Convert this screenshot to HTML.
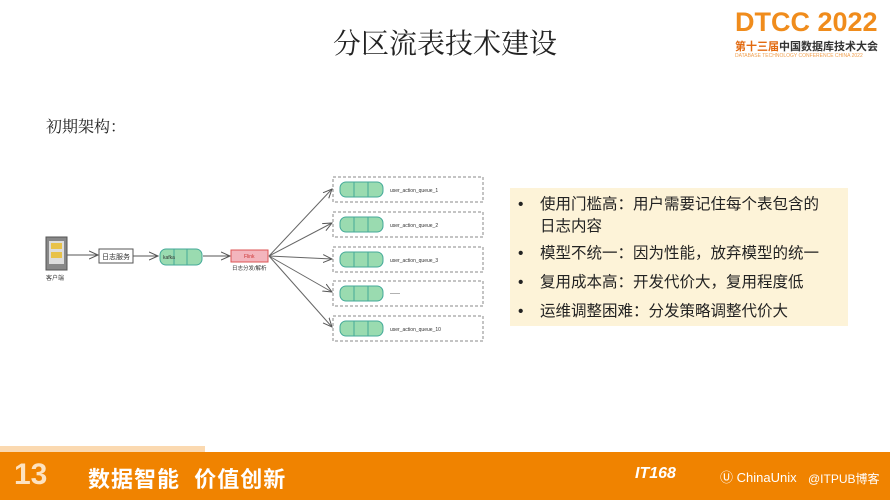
<!DOCTYPE html>
<html><head><meta charset="utf-8"><style>
body{margin:0;width:890px;height:500px;overflow:hidden;background:#fff;font-family:"Liberation Sans","Noto Sans CJK SC",sans-serif;position:relative}
.abs{position:absolute}
.title{left:0;width:890px;top:22px;text-align:center;font-size:28px;font-family:"Liberation Serif","Noto Serif CJK SC",serif;color:#222}
.sub{left:46px;top:114px;font-size:16px;font-family:"Liberation Serif","Noto Serif CJK SC",serif;color:#222}
.panel{left:510px;top:188px;width:338px;height:138px;background:#fdf3d8}
.li{position:absolute;left:8px;font-size:15.5px;color:#222;line-height:22px;white-space:nowrap}
.li b{font-weight:normal;position:absolute;left:0}
.li span{display:block;margin-left:22px}
.band{left:0;top:452px;width:890px;height:48px;background:#f08300}
</style></head><body>
<div class="abs title">分区流表技术建设</div>
<div class="abs" style="left:735px;top:7px;font-size:27px;font-weight:bold;color:#f08c1c">DTCC 2022</div>
<div class="abs" style="left:735px;top:38px;font-size:11px;font-weight:bold;color:#e26a10">第十三届<span style="color:#333">中国数据库技术大会</span></div>
<div class="abs" style="left:735px;top:53px;font-size:5px;color:#f0a050">DATABASE TECHNOLOGY CONFERENCE CHINA 2022</div>
<div class="abs sub">初期架构：</div>
<svg class="abs" style="left:0;top:0" width="890" height="450">
<defs><marker id="a" markerWidth="10" markerHeight="10" refX="9" refY="5" orient="auto"><path d="M0,1 L9,5 L0,9" fill="none" stroke="#555" stroke-width="1"/></marker></defs>
<rect x="46" y="237" width="21" height="33" fill="#888" stroke="#555"/>
<rect x="49" y="241" width="15" height="23" fill="#ddd"/>
<rect x="51" y="243" width="11" height="6" fill="#e8c24a"/>
<rect x="51" y="252" width="11" height="6" fill="#e8c24a"/>
<text x="46" y="280" font-size="6" fill="#333">客户端</text>
<line x1="67" y1="255" x2="98" y2="255" stroke="#555" marker-end="url(#a)"/>
<rect x="99" y="249" width="34" height="14" fill="#fff" stroke="#555"/>
<text x="102" y="259" font-size="7" fill="#333">日志服务</text>
<line x1="133" y1="256" x2="158" y2="256" stroke="#555" marker-end="url(#a)"/>
<rect x="160" y="249" width="42" height="16" rx="6" fill="#9adbb0" stroke="#4a9"/>
<line x1="174" y1="249" x2="174" y2="265" stroke="#4a9"/><line x1="187" y1="249" x2="187" y2="265" stroke="#4a9"/>
<text x="163" y="259" font-size="5" fill="#333">kafka</text>
<line x1="203" y1="256" x2="230" y2="256" stroke="#555" marker-end="url(#a)"/>
<rect x="231" y="250" width="37" height="12" fill="#f3b5bd" stroke="#d55"/>
<text x="244" y="258" font-size="5" fill="#c33">Flink</text>
<text x="232" y="270" font-size="5.5" fill="#333">日志分发/解析</text>
<g stroke="#666" fill="none">
<line x1="269" y1="256" x2="332" y2="189" marker-end="url(#a)"/>
<line x1="269" y1="256" x2="332" y2="223" marker-end="url(#a)"/>
<line x1="269" y1="256" x2="332" y2="259" marker-end="url(#a)"/>
<line x1="269" y1="256" x2="332" y2="292" marker-end="url(#a)"/>
<line x1="269" y1="256" x2="332" y2="327" marker-end="url(#a)"/>
</g>
<g font-size="5" fill="#333">
<g transform="translate(0,177)"><rect x="333" y="0" width="150" height="25" fill="none" stroke="#888" stroke-dasharray="3,2"/><rect x="340" y="5" width="43" height="15" rx="6" fill="#9adbb0" stroke="#4a9"/><line x1="354" y1="5" x2="354" y2="20" stroke="#4a9"/><line x1="368" y1="5" x2="368" y2="20" stroke="#4a9"/><text x="390" y="15">user_action_queue_1</text></g>
<g transform="translate(0,212)"><rect x="333" y="0" width="150" height="25" fill="none" stroke="#888" stroke-dasharray="3,2"/><rect x="340" y="5" width="43" height="15" rx="6" fill="#9adbb0" stroke="#4a9"/><line x1="354" y1="5" x2="354" y2="20" stroke="#4a9"/><line x1="368" y1="5" x2="368" y2="20" stroke="#4a9"/><text x="390" y="15">user_action_queue_2</text></g>
<g transform="translate(0,247)"><rect x="333" y="0" width="150" height="25" fill="none" stroke="#888" stroke-dasharray="3,2"/><rect x="340" y="5" width="43" height="15" rx="6" fill="#9adbb0" stroke="#4a9"/><line x1="354" y1="5" x2="354" y2="20" stroke="#4a9"/><line x1="368" y1="5" x2="368" y2="20" stroke="#4a9"/><text x="390" y="15">user_action_queue_3</text></g>
<g transform="translate(0,281)"><rect x="333" y="0" width="150" height="25" fill="none" stroke="#888" stroke-dasharray="3,2"/><rect x="340" y="5" width="43" height="15" rx="6" fill="#9adbb0" stroke="#4a9"/><line x1="354" y1="5" x2="354" y2="20" stroke="#4a9"/><line x1="368" y1="5" x2="368" y2="20" stroke="#4a9"/><text x="390" y="14">——</text></g>
<g transform="translate(0,316)"><rect x="333" y="0" width="150" height="25" fill="none" stroke="#888" stroke-dasharray="3,2"/><rect x="340" y="5" width="43" height="15" rx="6" fill="#9adbb0" stroke="#4a9"/><line x1="354" y1="5" x2="354" y2="20" stroke="#4a9"/><line x1="368" y1="5" x2="368" y2="20" stroke="#4a9"/><text x="390" y="15">user_action_queue_10</text></g>
</g>
</svg>
<div class="abs panel">
<div class="li" style="top:6px"><b>•</b><span>使用门槛高：用户需要记住每个表包含的<br>日志内容</span></div>
<div class="li" style="top:55px"><b>•</b><span>模型不统一：因为性能，放弃模型的统一</span></div>
<div class="li" style="top:84px"><b>•</b><span>复用成本高：开发代价大，复用程度低</span></div>
<div class="li" style="top:113px"><b>•</b><span>运维调整困难：分发策略调整代价大</span></div>
</div>
<div class="abs" style="left:0;top:446px;width:205px;height:6px;background:#fbd9b0"></div>
<div class="abs band"></div>
<div class="abs" style="left:14px;top:458px;font-size:30px;font-weight:bold;color:#fde2c0">13</div>
<div class="abs" style="left:88px;top:462px;font-size:22px;font-weight:bold;color:#fff;letter-spacing:1px">数据智能&nbsp; 价值创新</div>
<div class="abs" style="left:635px;top:465px;font-size:16px;font-weight:bold;font-style:italic;color:#fff">IT168</div>
<div class="abs" style="left:720px;top:467px;font-size:13px;color:#fff">Ⓤ ChinaUnix</div>
<div class="abs" style="left:808px;top:470px;font-size:12px;color:#fff">@ITPUB博客</div>
</body></html>
